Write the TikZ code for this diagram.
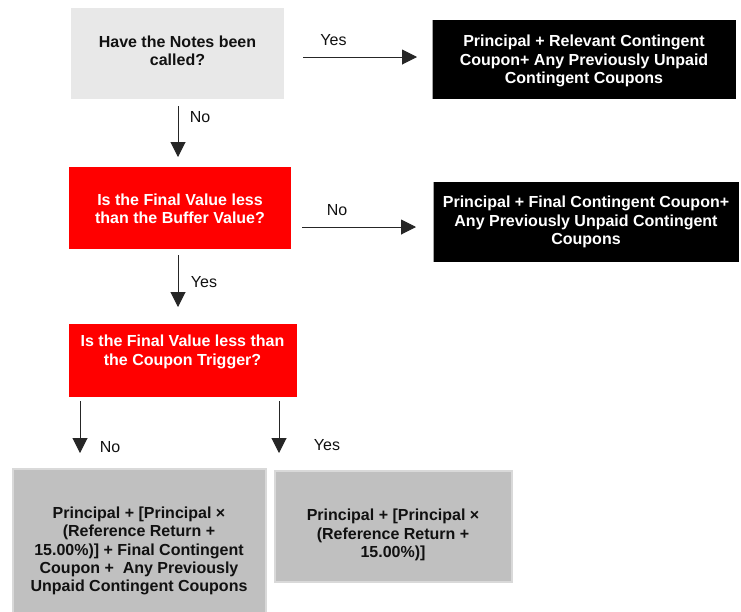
\documentclass[tikz,border=0pt]{standalone}
\usepackage{fontspec}
\setmainfont{Liberation Sans}
\usetikzlibrary{arrows.meta,calc}
\definecolor{lightbox}{HTML}{E8E8E8}
\definecolor{redbox}{HTML}{FF0000}
\definecolor{greybox}{HTML}{C0C0C0}
\definecolor{greyedge}{HTML}{D9D9D9}
\definecolor{textdark}{HTML}{111111}
\begin{document}
\begin{tikzpicture}[x=1pt,y=-1pt,
 box/.style={inner sep=0pt, outer sep=0pt},
 txt/.style={align=center, font=\fontsize{16}{18.4}\selectfont\bfseries, inner sep=0pt},
 lbl/.style={font=\fontsize{16}{18.4}\selectfont, inner sep=0pt, text=textdark},
 arr/.style={line width=1pt, draw=black!85, -{Triangle[width=15pt,length=15pt]}}]
\useasboundingbox (0,0) rectangle (741,611);
\clip (0,0) rectangle (741,611);
\fill[white] (0,0) rectangle (741,611);
% boxes
\node[box, fill=lightbox, minimum width=213pt, minimum height=91pt] (b1) at (177.5,53.5) {};
\node[box, fill=black, minimum width=304pt, minimum height=79pt] (y1) at (584,59.5) {};
\node[box, fill=redbox, minimum width=222pt, minimum height=82pt] (b2) at (180,208) {};
\node[box, fill=black, minimum width=306pt, minimum height=80pt] (y2) at (586,222) {};
\node[box, fill=redbox, minimum width=228pt, minimum height=73pt] (b3) at (183,360.5) {};
\node[box, fill=greybox, draw=greyedge, line width=1.5pt, minimum width=253pt, minimum height=164pt] (b4) at (139.5,551) {};
\node[box, fill=greybox, draw=greyedge, line width=1.5pt, minimum width=237pt, minimum height=111pt] (b5) at (393.5,526.5) {};
\draw[gray!70, line width=1pt] (y1.north west) -- (y1.south west);
\draw[gray!70, line width=1pt] (y2.north west) -- (y2.south west);
% texts
\node[txt, text=textdark] (t1) at (177.5,50.5) {Have the Notes been\\called?};
\node[txt, text=white] (t2) at (584,61) {Principal + Relevant Contingent\\Coupon+ Any Previously Unpaid\\Contingent Coupons};
\node[txt, text=white] (t3) at (180,209) {Is the Final Value less\\than the Buffer Value?};
\node[txt, text=white] (t4) at (586,222) {Principal + Final Contingent Coupon+\\Any Previously Unpaid Contingent\\Coupons};
\node[txt, text=white] (t5) at (182.5,352) {Is the Final Value less than\\the Coupon Trigger?};
\node[txt, text=textdark] (t6) at (139,551) {Principal + [Principal ×\\(Reference Return +\\15.00\%)] + Final Contingent\\Coupon +\ \ Any Previously\\Unpaid Contingent Coupons};
\node[txt, text=textdark] (t7) at (393,535) {Principal + [Principal ×\\(Reference Return +\\15.00\%)]};
% labels
\node[lbl] (l1) at (333.5,40) {Yes};
\node[lbl] (l2) at (200,117) {No};
\node[lbl] (l3) at (337,210) {No};
\node[lbl] (l4) at (204,282) {Yes};
\node[lbl] (l5) at (110,447) {No};
\node[lbl] (l6) at (327,445) {Yes};
% arrows
\draw[arr, shorten <=19pt, shorten >=15pt] (b1.east |- 0,57) -- (y1.west |- 0,57);
\draw[arr, shorten <=7pt, shorten >=10pt] (178,0 |- b1.south) -- (178,0 |- b2.north);
\draw[arr, shorten <=11pt, shorten >=17pt] (b2.east |- 0,227) -- (y2.west |- 0,227);
\draw[arr, shorten <=6pt, shorten >=17pt] (178,0 |- b2.south) -- (178,0 |- b3.north);
\draw[arr, shorten <=4pt, shorten >=16pt] (80,0 |- b3.south) -- (80,0 |- b4.north);
\draw[arr, shorten <=4pt, shorten >=18pt] (279,0 |- b3.south) -- (279,0 |- b5.north);
\end{tikzpicture}
\end{document}
